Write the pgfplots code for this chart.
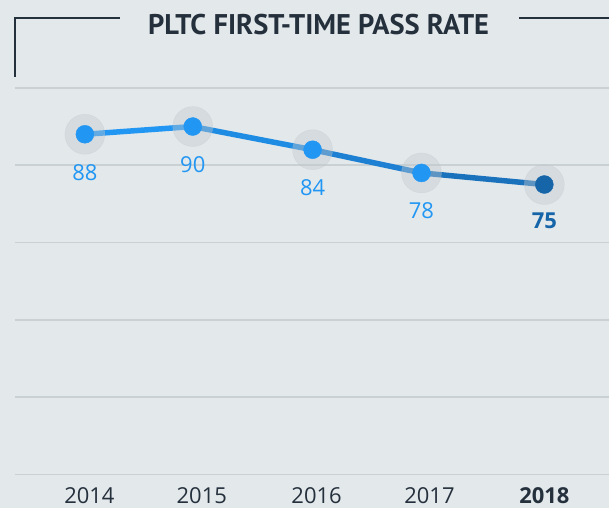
\documentclass[border=0pt]{standalone}
\usepackage{pgfplots}
\pgfplotsset{compat=1.18}
\usepackage{fontspec}
\setmainfont{Open Sans}
\newfontfamily\titlefont{PT Sans}
\definecolor{bg}{HTML}{E3E8EB}
\definecolor{titlec}{HTML}{25303D}
\definecolor{gridc}{HTML}{C9D1D5}
\definecolor{haloc}{HTML}{C3C9CD}
\definecolor{bluea}{HTML}{2196F3}
\definecolor{blueb}{HTML}{1F8CE4}
\definecolor{bluec}{HTML}{1D80D2}
\definecolor{blued}{HTML}{1A72BC}
\definecolor{darkb}{HTML}{1565A8}
\begin{document}
\begin{tikzpicture}[x=1pt,y=1pt]
\fill[bg] (0,0) rectangle (610,509);
\draw[titlec, line width=1.3pt] (15,432) -- (15,491) -- (120,491);
\draw[titlec, line width=1.3pt] (520,491) -- (610,491);
\node[font=\titlefont\bfseries\fontsize{28.5}{32}\selectfont, text=titlec] at (319,484.5) {PLTC FIRST-TIME PASS RATE};
\begin{axis}[
  at={(15pt,34pt)}, anchor=south west, scale only axis,
  width=595pt, height=387pt,
  xmin=15, xmax=610, ymin=0, ymax=100,
  axis line style={draw=none}, tick style={draw=none},
  ytick={0,20,...,100}, yticklabels={},
  ymajorgrids, grid style={color=gridc, line width=1.5pt},
  xtick={89.5,202,317,430,545},
  xticklabels={2014,2015,2016,2017,\textbf{2018}},
  xticklabel style={font=\fontsize{22}{26}\selectfont, text=titlec, anchor=base, yshift=-29pt},
  clip=false,
]
\addplot[bluea, line width=5.5pt] coordinates {(85,88) (193,90)};
\addplot[blueb, line width=5.5pt] coordinates {(193,90) (313,84)};
\addplot[bluec, line width=5.5pt] coordinates {(313,84) (422,78)};
\addplot[blued, line width=5.5pt] coordinates {(422,78) (545,75)};
\addplot[only marks, mark=*, mark size=20pt, color=haloc, opacity=0.4]
  coordinates {(85,88) (193,90) (313,84) (422,78) (545,75)};
\addplot[only marks, mark=*, mark size=9pt, color=bluea,
  point meta=explicit symbolic, nodes near coords,
  every node near coord/.style={anchor=center, yshift=-38pt, text=bluea, font=\fontsize{22}{26}\selectfont}]
  coordinates {(85,88) [88] (193,90) [90] (313,84) [84] (422,78) [78]};
\addplot[only marks, mark=*, mark size=9pt, color=darkb,
  point meta=explicit symbolic, nodes near coords,
  every node near coord/.style={anchor=center, yshift=-36pt, text=darkb, font=\bfseries\fontsize{22}{26}\selectfont}]
  coordinates {(545,75) [75]};
\end{axis}
\end{tikzpicture}
\end{document}
